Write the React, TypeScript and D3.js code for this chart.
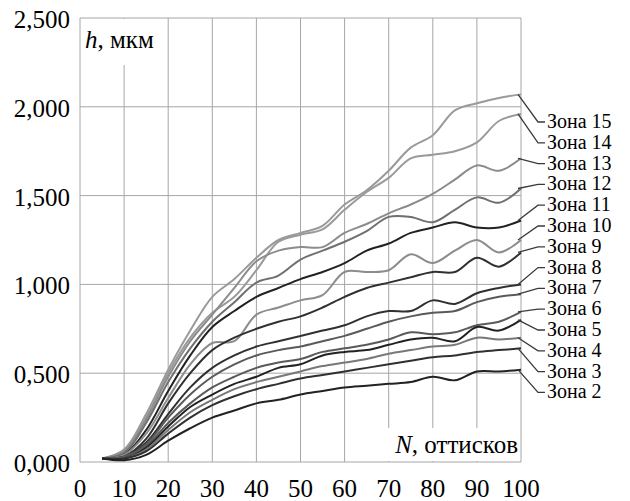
import React from "react";
import * as d3 from "d3";

const W = 630;
const H = 501;
const M = { left: 80, right: 109, top: 18, bottom: 39 };

const prints = [5, 10, 15, 20, 25, 30, 35, 40, 45, 50, 55, 60, 65, 70, 75, 80, 85, 90, 95, 100];

const zone2 = [0.02, 0.01, 0.04, 0.12, 0.19, 0.25, 0.29, 0.33, 0.35, 0.38, 0.4, 0.42, 0.43, 0.44, 0.45, 0.48, 0.46, 0.51, 0.51, 0.52];
const zone3 = [0.02, 0.02, 0.06, 0.16, 0.25, 0.32, 0.37, 0.41, 0.44, 0.47, 0.49, 0.51, 0.53, 0.55, 0.57, 0.59, 0.6, 0.62, 0.63, 0.64];
const zone4 = [0.02, 0.02, 0.07, 0.18, 0.28, 0.35, 0.41, 0.45, 0.48, 0.51, 0.54, 0.56, 0.58, 0.61, 0.63, 0.65, 0.66, 0.7, 0.69, 0.7];
const zone5 = [0.02, 0.02, 0.08, 0.2, 0.31, 0.38, 0.44, 0.48, 0.53, 0.55, 0.6, 0.62, 0.63, 0.66, 0.69, 0.7, 0.68, 0.76, 0.74, 0.8];
const zone6 = [0.02, 0.03, 0.09, 0.22, 0.33, 0.42, 0.48, 0.53, 0.56, 0.58, 0.62, 0.64, 0.66, 0.69, 0.73, 0.72, 0.73, 0.77, 0.79, 0.845];
const zone7 = [0.02, 0.03, 0.1, 0.25, 0.38, 0.48, 0.55, 0.6, 0.63, 0.65, 0.68, 0.71, 0.75, 0.79, 0.82, 0.84, 0.85, 0.9, 0.93, 0.945];
const zone8 = [0.02, 0.03, 0.11, 0.27, 0.42, 0.53, 0.6, 0.65, 0.68, 0.71, 0.74, 0.77, 0.82, 0.85, 0.85, 0.91, 0.89, 0.95, 0.98, 1.0];
const zone9 = [0.02, 0.03, 0.13, 0.33, 0.5, 0.63, 0.7, 0.75, 0.79, 0.82, 0.87, 0.93, 0.98, 1.01, 1.04, 1.07, 1.07, 1.15, 1.1, 1.18];
const zone10 = [0.02, 0.04, 0.16, 0.36, 0.55, 0.67, 0.68, 0.83, 0.87, 0.91, 0.94, 1.07, 1.07, 1.08, 1.17, 1.12, 1.19, 1.25, 1.18, 1.25];
const zone11 = [0.02, 0.04, 0.18, 0.4, 0.6, 0.76, 0.85, 0.93, 0.98, 1.03, 1.07, 1.12, 1.19, 1.23, 1.29, 1.32, 1.35, 1.32, 1.32, 1.36];
const zone12 = [0.02, 0.05, 0.22, 0.45, 0.64, 0.79, 0.9, 1.01, 1.05, 1.14, 1.19, 1.24, 1.3, 1.38, 1.38, 1.35, 1.42, 1.49, 1.46, 1.54];
const zone13 = [0.02, 0.06, 0.24, 0.48, 0.68, 0.83, 0.98, 1.13, 1.19, 1.21, 1.21, 1.29, 1.34, 1.4, 1.45, 1.51, 1.59, 1.67, 1.64, 1.71];
const zone14 = [0.02, 0.06, 0.25, 0.5, 0.7, 0.84, 0.93, 1.08, 1.24, 1.28, 1.31, 1.42, 1.52, 1.6, 1.71, 1.73, 1.75, 1.8, 1.92, 1.96];
const zone15 = [0.02, 0.07, 0.27, 0.52, 0.74, 0.93, 1.03, 1.15, 1.25, 1.29, 1.33, 1.45, 1.53, 1.64, 1.77, 1.84, 1.98, 2.02, 2.05, 2.07];

const zoneNames = ["Зона 15", "Зона 14", "Зона 13", "Зона 12", "Зона 11", "Зона 10", "Зона 9", "Зона 8", "Зона 7", "Зона 6", "Зона 5", "Зона 4", "Зона 3", "Зона 2"];
const zoneValues = [zone15, zone14, zone13, zone12, zone11, zone10, zone9, zone8, zone7, zone6, zone5, zone4, zone3, zone2];
const zoneColors = ["#9a9a9a", "#9a9a9a", "#8c8c8c", "#707070", "#222222", "#8c8c8c", "#303030", "#303030", "#5a5a5a", "#5a5a5a", "#222222", "#787878", "#303030", "#222222"];

const xTicks = [0, 10, 20, 30, 40, 50, 60, 70, 80, 90, 100];
const yTicks = [0, 0.5, 1, 1.5, 2, 2.5];
const yTickLabels = ["0,000", "0,500", "1,000", "1,500", "2,000", "2,500"];

const serif = { fontFamily: '"Liberation Serif", "DejaVu Serif", serif' };

export default function App() {
  const x = d3.scaleLinear().domain([0, 100]).range([M.left, W - M.right]);
  const y = d3.scaleLinear().domain([0, 2.5]).range([H - M.bottom, M.top]);

  const line = d3
    .line<number>()
    .x((_, i) => x(prints[i]))
    .y((d) => y(d))
    .curve(d3.curveCatmullRom.alpha(0.5));

  const grid = "#a6a6a6";
  const labelY0 = 122;
  const labelStep = 20.8;

  return (
    <svg width={W} height={H} style={{ position: "absolute", left: 0, top: 0, background: "#fff" }}>
      {/* grid */}
      {yTicks.map((t) => (
        <line key={"h" + t} x1={x(0)} x2={x(100)} y1={y(t)} y2={y(t)} stroke={grid} strokeWidth={1} />
      ))}
      {xTicks.map((t) => (
        <line key={"v" + t} x1={x(t)} x2={x(t)} y1={y(0)} y2={y(2.5)} stroke={grid} strokeWidth={1} />
      ))}

      {/* axis title boxes */}
      <rect x={x(0) + 1} y={y(2.5) + 1} width={84} height={46} fill="#fff" />
      <rect x={377} y={428} width={x(100) - 377 - 1} height={y(0) - 428 - 1} fill="#fff" />
      <text x={85} y={48} style={serif} fontSize={25} fill="#000">
        <tspan fontStyle="italic">h</tspan>, мкм
      </text>
      <text x={518} y={453} style={serif} fontSize={25} fill="#000" textAnchor="end">
        <tspan fontStyle="italic">N</tspan>, оттисков
      </text>

      {/* series */}
      {zoneValues.map((vals, i) => (
        <path key={zoneNames[i]} d={line(vals) || ""} fill="none" stroke={zoneColors[i]} strokeWidth={2} />
      ))}

      {/* leaders and labels */}
      {zoneValues.map((vals, i) => {
        const ly = labelY0 + i * labelStep;
        const ex = x(100) - 3;
        const ey = y(vals[vals.length - 1]);
        return (
          <g key={"lab" + i}>
            <polyline points={`${ex},${ey} ${538},${ly} ${545},${ly}`} fill="none" stroke="#3a3a3a" strokeWidth={1.3} />
            <text x={547} y={ly + 6} style={serif} fontSize={20} fill="#000">
              {zoneNames[i]}
            </text>
          </g>
        );
      })}

      {/* tick labels */}
      {yTicks.map((t, i) => (
        <text key={"yl" + t} x={70} y={y(t) + 10} style={serif} fontSize={25} textAnchor="end" fill="#000">
          {yTickLabels[i]}
        </text>
      ))}
      {xTicks.map((t) => (
        <text key={"xl" + t} x={x(t)} y={497} style={serif} fontSize={25} textAnchor="middle" fill="#000">
          {t}
        </text>
      ))}
    </svg>
  );
}
